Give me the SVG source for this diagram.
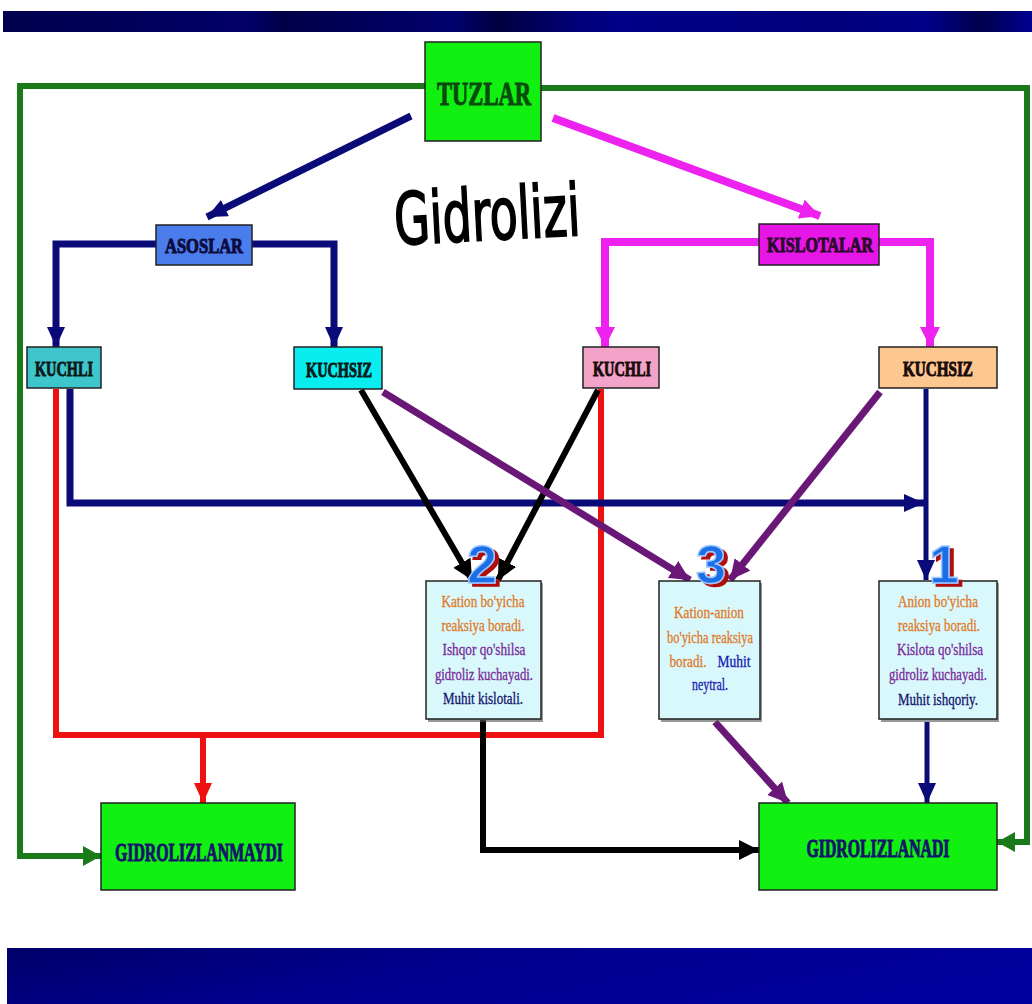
<svg xmlns="http://www.w3.org/2000/svg" width="1032" height="1004" viewBox="0 0 1032 1004">
  <defs>
    <linearGradient id="topBand" x1="0" y1="0" x2="1" y2="0">
      <stop offset="0" stop-color="#00004e"/>
      <stop offset="0.24" stop-color="#000068"/>
      <stop offset="0.27" stop-color="#000048"/>
      <stop offset="0.44" stop-color="#00006e"/>
      <stop offset="0.48" stop-color="#000040"/>
      <stop offset="0.56" stop-color="#00007a"/>
      <stop offset="0.6" stop-color="#000088"/>
      <stop offset="0.8" stop-color="#00007c"/>
      <stop offset="0.9" stop-color="#000088"/>
      <stop offset="0.95" stop-color="#00004e"/>
      <stop offset="1" stop-color="#000090"/>
    </linearGradient>
    <linearGradient id="bottomBand" x1="0" y1="0" x2="1" y2="0.3">
      <stop offset="0" stop-color="#00006a"/>
      <stop offset="0.5" stop-color="#000090"/>
      <stop offset="1" stop-color="#00009c"/>
    </linearGradient>
    <!-- red offset shadow behind the case numbers -->
    <filter id="redShadow" x="-20%" y="-20%" width="160%" height="160%">
      <feFlood flood-color="#b00c0c" result="c"/>
      <feComposite in="c" in2="SourceAlpha" operator="in" result="s"/>
      <feOffset in="s" dx="4" dy="3" result="o"/>
      <feMerge><feMergeNode in="o"/><feMergeNode in="SourceGraphic"/></feMerge>
    </filter>
    <marker id="ahGreen" markerUnits="userSpaceOnUse" markerWidth="18" markerHeight="20" refX="18" refY="10" orient="auto"><path d="M0,0 L18,10 L0,20 z" fill="#1a7a1a"/></marker>
    <marker id="ahNavy" markerUnits="userSpaceOnUse" markerWidth="20" markerHeight="18" refX="20" refY="9" orient="auto"><path d="M0,0 L20,9 L0,18 z" fill="#0a0a78"/></marker>
    <marker id="ahMagenta" markerUnits="userSpaceOnUse" markerWidth="20" markerHeight="20" refX="20" refY="10" orient="auto"><path d="M0,0 L20,10 L0,20 z" fill="#ee22ee"/></marker>
    <marker id="ahRed" markerUnits="userSpaceOnUse" markerWidth="20" markerHeight="18" refX="20" refY="9" orient="auto"><path d="M0,0 L20,9 L0,18 z" fill="#ee1111"/></marker>
    <marker id="ahBlack" markerUnits="userSpaceOnUse" markerWidth="20" markerHeight="20" refX="20" refY="10" orient="auto"><path d="M0,0 L20,10 L0,20 z" fill="#000"/></marker>
    <marker id="ahPurple" markerUnits="userSpaceOnUse" markerWidth="20" markerHeight="20" refX="20" refY="10" orient="auto"><path d="M0,0 L20,10 L0,20 z" fill="#6a1878"/></marker>
    <style>
      .ln { fill: none; stroke-linejoin: miter; stroke-linecap: butt; }
      .green { stroke: #1a7a1a; stroke-width: 6; }
      .navy { stroke: #0a0a78; stroke-width: 7; }
      .navyThin { stroke: #0a0a78; stroke-width: 5; }
      .magenta { stroke: #ee22ee; stroke-width: 8; }
      .red { stroke: #ee1111; stroke-width: 6; }
      .black { stroke: #000; stroke-width: 6; }
      .purple { stroke: #6a1878; stroke-width: 7; }
      .box { stroke: #222; stroke-width: 1.5; }
      .shadow { fill: #555; opacity: 0.6; }
      .head { font-family: "Liberation Serif", "DejaVu Serif", serif; font-weight: bold; text-anchor: middle; stroke-width: 1; paint-order: stroke; }
      .note { font-family: "Liberation Serif", "DejaVu Serif", serif; font-size: 16px; text-anchor: middle; stroke-width: 0.3; }
      .orange { fill: #e07a28; stroke: #e07a28; }
      .violet { fill: #7a2a9a; stroke: #7a2a9a; }
      .dblue { fill: #14146e; stroke: #14146e; }
      .mblue { fill: #1a1ab0; stroke: #1a1ab0; }
      .num { font-family: "Liberation Sans", "DejaVu Sans", sans-serif; font-weight: bold; font-size: 54px; text-anchor: middle; fill: #1e6ee6; stroke: #9cc8ff; stroke-width: 1.5; filter: url(#redShadow); }
    </style>
  </defs>

  <rect width="1032" height="1004" fill="#ffffff"/>

  <!-- title bands -->
  <rect x="3" y="11" width="1029" height="21" fill="url(#topBand)"/>
  <rect x="7" y="948" width="1025" height="56" fill="url(#bottomBand)"/>

  <!-- connectors -->
  <g id="connectors">
    <path class="ln green" d="M425,86 H20 V856 H101" marker-end="url(#ahGreen)"/>
    <path class="ln green" d="M541,88 H1027 V842 H997" marker-end="url(#ahGreen)"/>
    <path class="ln navy" d="M411,116 L207,217" marker-end="url(#ahNavy)"/>
    <path class="ln magenta" d="M553,118 L820,216" marker-end="url(#ahMagenta)"/>
    <path class="ln navy" d="M156,244 H56 V347" marker-end="url(#ahNavy)"/>
    <path class="ln navy" d="M252,244 H334 V347" marker-end="url(#ahNavy)"/>
    <path class="ln magenta" d="M759,242 H605 V347" marker-end="url(#ahMagenta)"/>
    <path class="ln magenta" d="M879,242 H930 V347" marker-end="url(#ahMagenta)"/>
    <path class="ln red" d="M56,389 V735 H601 V389"/>
    <path class="ln red" d="M203,735 V803" marker-end="url(#ahRed)"/>
    <path class="ln navy" d="M70,389 V503 H924" marker-end="url(#ahNavy)"/>
    <path class="ln navyThin" d="M926,389 V580" marker-end="url(#ahNavy)"/>
    <path class="ln black" d="M361,390 L472,580" marker-end="url(#ahBlack)"/>
    <path class="ln black" d="M598,390 L498,580" marker-end="url(#ahBlack)"/>
    <path class="ln purple" d="M383,392 L690,580" marker-end="url(#ahPurple)"/>
    <path class="ln purple" d="M880,392 L730,580" marker-end="url(#ahPurple)"/>
    <path class="ln black" d="M483,720 V850 H759" marker-end="url(#ahBlack)"/>
    <path class="ln purple" d="M715,722 L788,803" marker-end="url(#ahPurple)"/>
    <path class="ln navyThin" d="M927,722 V803" marker-end="url(#ahNavy)"/>
  </g>

  <!-- heading -->
  <text x="487" y="240" transform="rotate(-3 487 215)" font-family="'Liberation Sans Narrow', 'DejaVu Sans Condensed', 'Liberation Sans', sans-serif" font-size="72" text-anchor="middle" textLength="186" lengthAdjust="spacingAndGlyphs" fill="#000" stroke="#000" stroke-width="1.8">Gidrolizi</text>

  <g id="tuzlar">
    <rect class="box" x="425" y="42" width="116" height="99" fill="#11f011"/>
    <text class="head" x="484" y="105" font-size="33" textLength="94" lengthAdjust="spacingAndGlyphs" fill="#0a4a0e" stroke="#0a4a0e">TUZLAR</text>
  </g>

  <g id="asoslar">
    <rect class="box" x="156" y="225" width="96" height="40" fill="#4b7cec"/>
    <text class="head" x="204" y="253" font-size="22" textLength="78" lengthAdjust="spacingAndGlyphs" fill="#0c0c3e" stroke="#0c0c3e">ASOSLAR</text>
  </g>

  <g id="kislotalar">
    <rect class="box" x="759" y="224" width="120" height="41" fill="#e616e6"/>
    <text class="head" x="820" y="252" font-size="22" textLength="106" lengthAdjust="spacingAndGlyphs" fill="#2a0a2a" stroke="#2a0a2a">KISLOTALAR</text>
  </g>

  <g id="asos-kuchli">
    <rect class="box" x="27" y="347" width="74" height="41" fill="#3ec6cc"/>
    <text class="head" x="64" y="376" font-size="22" textLength="58" lengthAdjust="spacingAndGlyphs" fill="#0c1a1a" stroke="#0c1a1a">KUCHLI</text>
  </g>

  <g id="asos-kuchsiz">
    <rect class="box" x="294" y="347" width="88" height="42" fill="#08eef0"/>
    <text class="head" x="339" y="377" font-size="22" textLength="66" lengthAdjust="spacingAndGlyphs" fill="#0c1a1a" stroke="#0c1a1a">KUCHSIZ</text>
  </g>

  <g id="kislota-kuchli">
    <rect class="box" x="583" y="347" width="76" height="41" fill="#f3a2c8"/>
    <text class="head" x="622" y="376" font-size="22" textLength="58" lengthAdjust="spacingAndGlyphs" fill="#1a0a0a" stroke="#1a0a0a">KUCHLI</text>
  </g>

  <g id="kislota-kuchsiz">
    <rect class="box" x="879" y="347" width="118" height="41" fill="#fcc890"/>
    <text class="head" x="938" y="376" font-size="22" textLength="70" lengthAdjust="spacingAndGlyphs" fill="#1a0a0a" stroke="#1a0a0a">KUCHSIZ</text>
  </g>

  <g id="case-2">
    <rect class="shadow" x="428" y="583" width="115" height="139"/>
    <rect class="box" x="426" y="581" width="115" height="138" fill="#d8f8fc"/>
    <text class="note orange" x="483" y="607" textLength="83" lengthAdjust="spacingAndGlyphs">Kation bo'yicha</text>
    <text class="note orange" x="483" y="631" textLength="83" lengthAdjust="spacingAndGlyphs">reaksiya boradi.</text>
    <text class="note violet" x="484" y="655" textLength="83" lengthAdjust="spacingAndGlyphs">Ishqor qo'shilsa</text>
    <text class="note violet" x="484" y="680" textLength="98" lengthAdjust="spacingAndGlyphs">gidroliz kuchayadi.</text>
    <text class="note dblue" x="483" y="704" textLength="80" lengthAdjust="spacingAndGlyphs">Muhit kislotali.</text>
    <text class="num" x="482" y="583">2</text>
  </g>

  <g id="case-3">
    <rect class="shadow" x="661" y="583" width="101" height="139"/>
    <rect class="box" x="659" y="581" width="101" height="138" fill="#d8f8fc"/>
    <text class="note orange" x="709" y="618" textLength="70" lengthAdjust="spacingAndGlyphs">Kation-anion</text>
    <text class="note orange" x="710" y="643" textLength="86" lengthAdjust="spacingAndGlyphs">bo'yicha reaksiya</text>
    <text class="note orange" x="688" y="667" textLength="37" lengthAdjust="spacingAndGlyphs">boradi.</text>
    <text class="note mblue" x="734" y="667" textLength="33" lengthAdjust="spacingAndGlyphs">Muhit</text>
    <text class="note mblue" x="710" y="690" textLength="36" lengthAdjust="spacingAndGlyphs">neytral.</text>
    <text class="num" x="711" y="583">3</text>
  </g>

  <g id="case-1">
    <rect class="shadow" x="881" y="583" width="118" height="139"/>
    <rect class="box" x="879" y="581" width="118" height="138" fill="#d8f8fc"/>
    <text class="note orange" x="938" y="607" textLength="80" lengthAdjust="spacingAndGlyphs">Anion bo'yicha</text>
    <text class="note orange" x="939" y="631" textLength="82" lengthAdjust="spacingAndGlyphs">reaksiya boradi.</text>
    <text class="note violet" x="940" y="655" textLength="86" lengthAdjust="spacingAndGlyphs">Kislota qo'shilsa</text>
    <text class="note violet" x="938" y="680" textLength="98" lengthAdjust="spacingAndGlyphs">gidroliz kuchayadi.</text>
    <text class="note dblue" x="938" y="705" textLength="80" lengthAdjust="spacingAndGlyphs">Muhit ishqoriy.</text>
    <text class="num" x="944" y="583">1</text>
  </g>

  <g id="gidrolizlanmaydi">
    <rect class="box" x="101" y="803" width="194" height="87" fill="#11f011"/>
    <text class="head" x="199" y="861" font-size="26" textLength="168" lengthAdjust="spacingAndGlyphs" fill="#14146a" stroke="#14146a">GIDROLIZLANMAYDI</text>
  </g>

  <g id="gidrolizlanadi">
    <rect class="box" x="759" y="803" width="238" height="87" fill="#11f011"/>
    <text class="head" x="878" y="857" font-size="26" textLength="143" lengthAdjust="spacingAndGlyphs" fill="#14146a" stroke="#14146a">GIDROLIZLANADI</text>
  </g>
</svg>
